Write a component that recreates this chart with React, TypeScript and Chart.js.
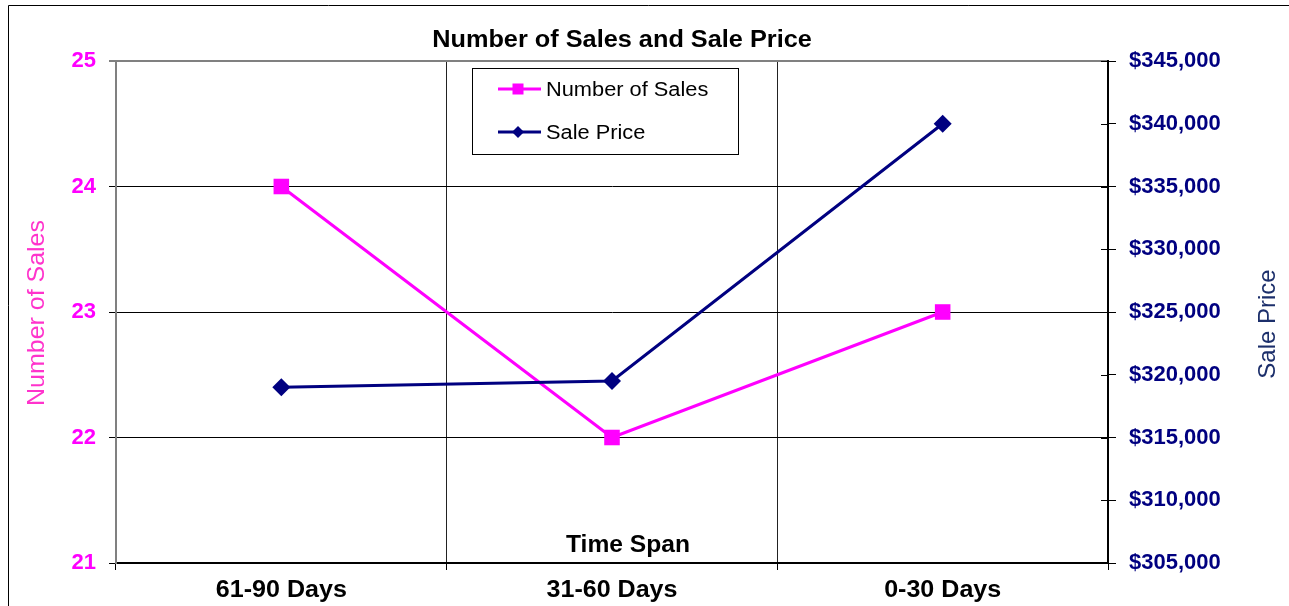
import React, { useEffect, useRef } from 'react';
import { Chart, registerables } from 'chart.js';

Chart.register(...registerables);

const FONT = '"Liberation Sans", Arial, Helvetica, sans-serif';

const chartTitle = 'Number of Sales and Sale Price';
const xAxisTitle = 'Time Span';
const leftAxisTitle = 'Number of Sales';
const rightAxisTitle = 'Sale Price';

const categories = ['61-90 Days', '31-60 Days', '0-30 Days'];
const numberOfSales = [24, 22, 23];
const salePrice = [319000, 319500, 340000];
const leftTicks = [21, 22, 23, 24, 25];
const rightTicks = [305000, 310000, 315000, 320000, 325000, 330000, 335000, 340000, 345000];

const MAGENTA = '#FF00FF';
const NAVY = '#000080';

function stretched(ctx: CanvasRenderingContext2D, text: string, x: number, y: number, sx: number) {
  ctx.save();
  ctx.translate(x, y);
  ctx.scale(sx, 1);
  ctx.fillText(text, 0, 0);
  ctx.restore();
}

const decor = {
  id: 'decor',
  beforeDraw(chart: any) {
    const ctx = chart.ctx;
    ctx.save();
    ctx.fillStyle = '#fff';
    ctx.fillRect(0, 0, chart.width, chart.height);
    ctx.restore();
  },
  afterDraw(chart: any) {
    const ctx = chart.ctx;
    const a = chart.chartArea;
    ctx.save();
    // outer frame
    ctx.strokeStyle = '#000';
    ctx.lineWidth = 1;
    ctx.beginPath();
    ctx.moveTo(8.5, chart.height);
    ctx.lineTo(8.5, 5.5);
    ctx.lineTo(chart.width, 5.5);
    ctx.stroke();

    // inner part of right-axis cross ticks
    const y1 = chart.scales.y1;
    ctx.strokeStyle = '#000';
    ctx.lineWidth = 1;
    y1.ticks.forEach((t: any) => {
      const y = Math.round(y1.getPixelForValue(t.value)) + 0.5;
      ctx.beginPath();
      ctx.moveTo(a.right - 7, y);
      ctx.lineTo(a.right, y);
      ctx.stroke();
    });

    // category labels
    const xs = chart.scales.x;
    ctx.fillStyle = '#000';
    ctx.textAlign = 'center';
    ctx.textBaseline = 'middle';
    ctx.font = `bold 23px ${FONT}`;
    chart.data.labels.forEach((lab: string, i: number) => {
      stretched(ctx, lab, xs.getPixelForValue(i), 591, 1.09);
    });

    // chart title
    stretched(ctx, chartTitle, 622, 41, 1.1);

    // x axis title (inside plot)
    stretched(ctx, xAxisTitle, 628, 546, 1.07);

    // left axis title
    ctx.save();
    ctx.translate(37, 313);
    ctx.rotate(-Math.PI / 2);
    ctx.fillStyle = '#FF33CC';
    ctx.font = `24px ${FONT}`;
    stretched(ctx, leftAxisTitle, 0, 0, 1.04);
    ctx.restore();

    // right axis title
    ctx.save();
    ctx.translate(1268, 324);
    ctx.rotate(-Math.PI / 2);
    ctx.fillStyle = '#1C2F6B';
    ctx.font = `24px ${FONT}`;
    ctx.fillText(rightAxisTitle, 0, 0);
    ctx.restore();

    // legend box
    ctx.fillStyle = '#fff';
    ctx.fillRect(472, 68, 266, 86);
    ctx.strokeStyle = '#000';
    ctx.lineWidth = 1;
    ctx.strokeRect(472.5, 68.5, 266, 86);

    const items = chart.data.datasets;
    const rows = [89, 132];
    items.forEach((ds: any, i: number) => {
      const y = rows[i];
      ctx.strokeStyle = ds.borderColor;
      ctx.lineWidth = 3;
      ctx.beginPath();
      ctx.moveTo(498, y);
      ctx.lineTo(541, y);
      ctx.stroke();
      ctx.fillStyle = ds.borderColor;
      const cx = 518;
      if (ds.pointStyle === 'rect') {
        ctx.fillRect(cx - 5.5, y - 5.5, 11, 11);
      } else {
        ctx.beginPath();
        ctx.moveTo(cx - 6, y);
        ctx.lineTo(cx, y - 6);
        ctx.lineTo(cx + 6, y);
        ctx.lineTo(cx, y + 6);
        ctx.closePath();
        ctx.fill();
      }
      ctx.fillStyle = '#000';
      ctx.textAlign = 'left';
      ctx.textBaseline = 'middle';
      ctx.font = `20px ${FONT}`;
      stretched(ctx, ds.label, 546, y + 1, 1.09);
    });
    ctx.restore();
  },
};

export default function App() {
  const ref = useRef<HTMLCanvasElement | null>(null);

  useEffect(() => {
    if (!ref.current) return;
    const chart = new Chart(ref.current, {
      type: 'line',
      data: {
        labels: categories,
        datasets: [
          {
            label: 'Number of Sales',
            data: numberOfSales,
            yAxisID: 'y',
            borderColor: MAGENTA,
            backgroundColor: MAGENTA,
            pointBackgroundColor: MAGENTA,
            pointBorderColor: MAGENTA,
            borderWidth: 3,
            pointStyle: 'rect',
            pointRadius: 11,
            pointBorderWidth: 0,
            tension: 0,
            order: 1,
          },
          {
            label: 'Sale Price',
            data: salePrice,
            yAxisID: 'y1',
            borderColor: NAVY,
            backgroundColor: NAVY,
            pointBackgroundColor: NAVY,
            pointBorderColor: NAVY,
            borderWidth: 3,
            pointStyle: 'rectRot',
            pointRadius: 9,
            pointBorderWidth: 0,
            tension: 0,
            order: 0,
          },
        ],
      },
      options: {
        responsive: false,
        animation: false,
        devicePixelRatio: 1,
        layout: { padding: { top: 61, left: 0, right: 0, bottom: 0 } },
        plugins: {
          legend: { display: false },
          title: { display: false },
          tooltip: { enabled: false },
        },
        scales: {
          x: {
            type: 'category',
            offset: true,
            grid: {
              offset: true,
              color: '#222',
              lineWidth: 1,
              tickColor: '#000',
              tickLength: 7,
              tickWidth: 1,
            },
            border: { color: '#000', width: 2 },
            ticks: { display: false },
            afterFit: (s: any) => {
              s.height = 43;
            },
          },
          y: {
            position: 'left',
            min: 21,
            max: 25,
            afterBuildTicks: (s: any) => {
              s.ticks = leftTicks.map((v) => ({ value: v }));
            },
            ticks: {
              color: MAGENTA,
              font: { family: FONT, size: 22, weight: 'bold' },
              padding: 13,
            },
            grid: {
              color: (c: any) => (c.tick && c.tick.value === 25 ? '#808080' : '#000'),
              lineWidth: (c: any) => (c.tick && c.tick.value === 25 ? 2 : 1),
              tickColor: '#000',
              tickLength: 7,
              tickWidth: 1,
            },
            border: { color: '#808080', width: 2 },
            afterFit: (s: any) => {
              s.width = 116;
            },
          },
          y1: {
            position: 'right',
            min: 305000,
            max: 345000,
            afterBuildTicks: (s: any) => {
              s.ticks = rightTicks.map((v) => ({ value: v }));
            },
            ticks: {
              color: NAVY,
              font: { family: FONT, size: 22, weight: 'bold' },
              padding: 13,
              callback: (v: any) => '$' + Number(v).toLocaleString('en-US'),
            },
            grid: {
              drawOnChartArea: false,
              tickColor: '#000',
              tickLength: 8,
              tickWidth: 1,
            },
            border: { color: '#000', width: 2 },
            afterFit: (s: any) => {
              s.width = 181;
            },
          },
        },
      },
      plugins: [decor],
    } as any);
    return () => chart.destroy();
  }, []);

  return (
    <div style={{ position: 'absolute', left: 0, top: 0, width: 1289, height: 606 }}>
      <canvas ref={ref} width={1289} height={606} style={{ display: 'block', width: 1289, height: 606 }} />
    </div>
  );
}
